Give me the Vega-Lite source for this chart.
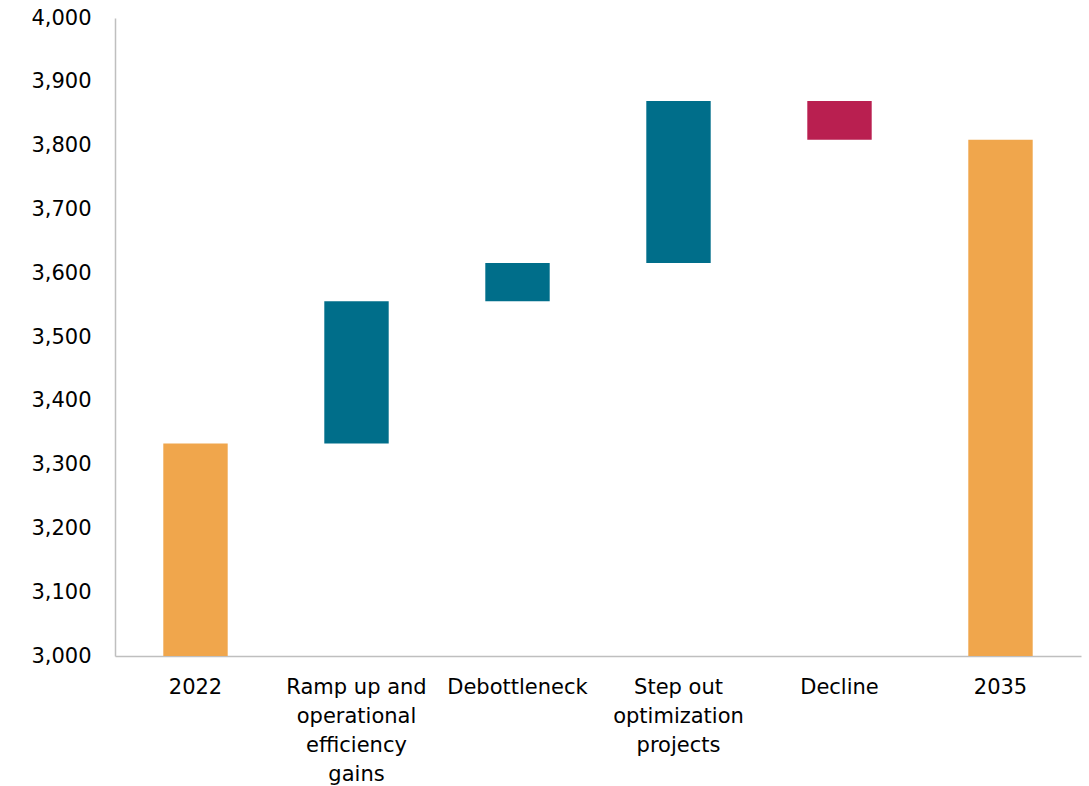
{
  "$schema": "https://vega.github.io/schema/vega-lite/v6.json",
  "autosize": {"type": "none"},
  "padding": {"left": 115, "top": 18, "right": 8, "bottom": 130},
  "width": 966,
  "height": 638,
  "background": "white",
  "config": {"view": {"stroke": null}},
  "data": {
    "values": [
      {"category": "2022", "start": 3000, "end": 3333, "kind": "total"},
      {"category": "Ramp up and operational efficiency gains", "start": 3333, "end": 3556, "kind": "increase"},
      {"category": "Debottleneck", "start": 3556, "end": 3616, "kind": "increase"},
      {"category": "Step out optimization projects", "start": 3616, "end": 3870, "kind": "increase"},
      {"category": "Decline", "start": 3870, "end": 3809, "kind": "decrease"},
      {"category": "2035", "start": 3000, "end": 3809, "kind": "total"}
    ]
  },
  "mark": {"type": "bar"},
  "encoding": {
    "x": {
      "field": "category",
      "type": "nominal",
      "sort": null,
      "scale": {"paddingInner": 0.6, "paddingOuter": 0.3},
      "axis": {
        "title": null,
        "labelAngle": 0,
        "ticks": false,
        "domainColor": "#bfbfbf",
        "domainWidth": 1.5,
        "labelFont": "DejaVu Sans",
        "labelFontSize": 21,
        "labelColor": "#000000",
        "labelPadding": 20,
        "labelLineHeight": 29,
        "labelLimit": 300,
        "labelExpr": "datum.value == 'Ramp up and operational efficiency gains' ? ['Ramp up and', 'operational', 'efficiency', 'gains'] : datum.value == 'Step out optimization projects' ? ['Step out', 'optimization', 'projects'] : datum.label"
      }
    },
    "y": {
      "field": "start",
      "type": "quantitative",
      "scale": {"domain": [3000, 4000], "nice": false, "zero": false},
      "axis": {
        "title": null,
        "values": [3000, 3100, 3200, 3300, 3400, 3500, 3600, 3700, 3800, 3900, 4000],
        "format": ",.0f",
        "grid": false,
        "ticks": false,
        "domainColor": "#bfbfbf",
        "domainWidth": 1.5,
        "labelFont": "DejaVu Sans",
        "labelFontSize": 21,
        "labelColor": "#000000",
        "labelPadding": 24
      }
    },
    "y2": {"field": "end"},
    "color": {
      "field": "kind",
      "type": "nominal",
      "scale": {"domain": ["total", "increase", "decrease"], "range": ["#F0A64C", "#006E8A", "#B91F50"]},
      "legend": null
    }
  }
}
